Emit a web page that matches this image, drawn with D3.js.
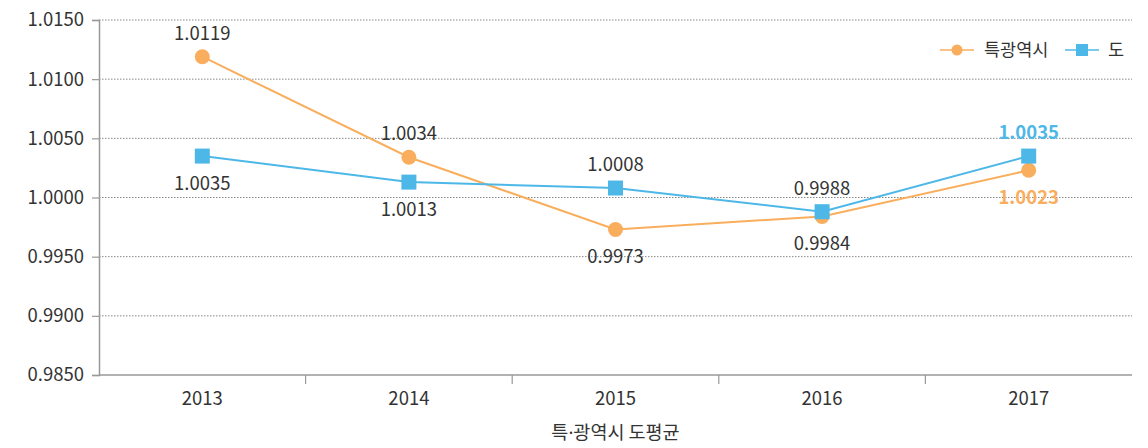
<!DOCTYPE html>
<html>
<head>
<meta charset="utf-8">
<script src="https://cdn.jsdelivr.net/npm/d3@7"></script>
<style>
  html, body { margin: 0; padding: 0; background: #fff; }
  svg { display: block; font-family: "Noto Sans CJK KR", "Noto Sans", sans-serif; }
</style>
</head>
<body>
<svg id="chart" width="1148" height="448"></svg>
<script>
// Categories and series
const years = ["2013", "2014", "2015", "2016", "2017"];
const metroValues = [1.0119, 1.0034, 0.9973, 0.9984, 1.0023];   // 특광역시
const provValues  = [1.0035, 1.0013, 1.0008, 0.9988, 1.0035];   // 도
const yTicks = [0.985, 0.990, 0.995, 1.000, 1.005, 1.010, 1.015];
const seriesNames = ["특광역시", "도"];
const xTitleParts = ["특", "·", "광역시 도평균"];
// label side per point: -1 above, +1 below
const metroLabelSide = [-1, -1, 1, 1, 1];
const provLabelSide  = [1, 1, -1, -1, -1];

const ORANGE = "#F9AE5E";
const BLUE = "#4DB8E8";
const TEXT = "#333";
const FS = 18.5;

const svg = d3.select("#chart");
const margin = { left: 99, right: 16, top: 20, bottom: 73 };
const W = 1148, H = 448;

const x = d3.scaleBand().domain(years).range([margin.left, W - margin.right]);
const y = d3.scaleLinear().domain([0.985, 1.015]).range([H - margin.bottom, margin.top]);

// gridlines
svg.append("g")
  .selectAll("line")
  .data(yTicks.slice(1))
  .join("line")
  .attr("x1", margin.left).attr("x2", W - margin.right)
  .attr("y1", d => y(d)).attr("y2", d => y(d))
  .attr("stroke", "#888").attr("stroke-width", 1)
  .attr("stroke-dasharray", "1.5,1.5");

// y axis
const yAxis = svg.append("g")
  .attr("transform", `translate(${margin.left},0)`)
  .call(d3.axisLeft(y).tickValues(yTicks).tickFormat(d3.format(".4f")).tickSize(7).tickPadding(8));
yAxis.select(".domain").attr("stroke", "#999").attr("stroke-width", 1.5);
yAxis.selectAll(".tick line").attr("stroke", "#999").attr("stroke-width", 1.2);
yAxis.selectAll("text").attr("fill", TEXT).attr("font-size", FS).attr("font-family", "'Noto Sans CJK KR', sans-serif");

// x axis with boundary ticks between categories
const xg = svg.append("g").attr("transform", `translate(0,${y(0.985)})`);
xg.append("line")
  .attr("x1", margin.left).attr("x2", W - margin.right)
  .attr("stroke", "#999").attr("stroke-width", 1.5);
xg.selectAll(".sep")
  .data(years.slice(1))
  .join("line")
  .attr("class", "sep")
  .attr("x1", d => x(d)).attr("x2", d => x(d))
  .attr("y1", 0).attr("y2", 9)
  .attr("stroke", "#999").attr("stroke-width", 1.2);
xg.selectAll(".xl")
  .data(years)
  .join("text")
  .attr("class", "xl")
  .attr("x", d => x(d) + x.bandwidth() / 2)
  .attr("y", 30)
  .attr("text-anchor", "middle")
  .attr("fill", TEXT).attr("font-size", FS)
  .text(d => d);

const title = svg.append("text")
  .attr("x", x("2015") + x.bandwidth() / 2)
  .attr("y", 439)
  .attr("text-anchor", "middle")
  .attr("fill", TEXT).attr("font-size", FS);
title.append("tspan").text(xTitleParts[0]);
title.append("tspan").attr("font-family", "'Noto Sans', sans-serif").text(xTitleParts[1]);
title.append("tspan").text(xTitleParts[2]);

const cx = d => x(d) + x.bandwidth() / 2;
const line = d3.line().x(d => cx(d.year)).y(d => y(d.value));

const metro = years.map((yr, i) => ({ year: yr, value: metroValues[i], side: metroLabelSide[i] }));
const prov = years.map((yr, i) => ({ year: yr, value: provValues[i], side: provLabelSide[i] }));

// lines
svg.append("path").datum(metro).attr("d", line)
  .attr("fill", "none").attr("stroke", ORANGE).attr("stroke-width", 2);
svg.append("path").datum(prov).attr("d", line)
  .attr("fill", "none").attr("stroke", BLUE).attr("stroke-width", 2);

// markers
svg.append("g").selectAll("circle").data(metro).join("circle")
  .attr("cx", d => cx(d.year)).attr("cy", d => y(d.value)).attr("r", 7.5)
  .attr("fill", ORANGE);
svg.append("g").selectAll("rect").data(prov).join("rect")
  .attr("x", d => cx(d.year) - 7.5).attr("y", d => y(d.value) - 7.5)
  .attr("width", 15).attr("height", 15)
  .attr("fill", BLUE);

// value labels
function labels(data, color, lastColor) {
  svg.append("g").selectAll("text").data(data).join("text")
    .attr("x", d => cx(d.year))
    .attr("y", d => y(d.value) + (d.side < 0 ? -17 : 34))
    .attr("text-anchor", "middle")
    .attr("font-size", FS)
    .attr("fill", (d, i) => i === data.length - 1 ? lastColor : color)
    .attr("font-weight", (d, i) => i === data.length - 1 ? "bold" : "normal")
    .text(d => d3.format(".4f")(d.value));
}
labels(metro, TEXT, ORANGE);
labels(prov, TEXT, BLUE);

// legend
const lg = svg.append("g").attr("transform", "translate(940,50)");
lg.append("line").attr("x1", 0).attr("x2", 34).attr("stroke", ORANGE).attr("stroke-width", 1.5);
lg.append("circle").attr("cx", 17).attr("r", 5.5).attr("fill", ORANGE);
lg.append("text").attr("x", 44).attr("y", 6).attr("font-size", 17.5).attr("fill", TEXT).text(seriesNames[0]);
lg.append("line").attr("x1", 125).attr("x2", 159).attr("stroke", BLUE).attr("stroke-width", 1.5);
lg.append("rect").attr("x", 136).attr("y", -6).attr("width", 12).attr("height", 12).attr("fill", BLUE);
lg.append("text").attr("x", 168).attr("y", 6).attr("font-size", 17.5).attr("fill", TEXT).text(seriesNames[1]);
</script>
</body>
</html>
